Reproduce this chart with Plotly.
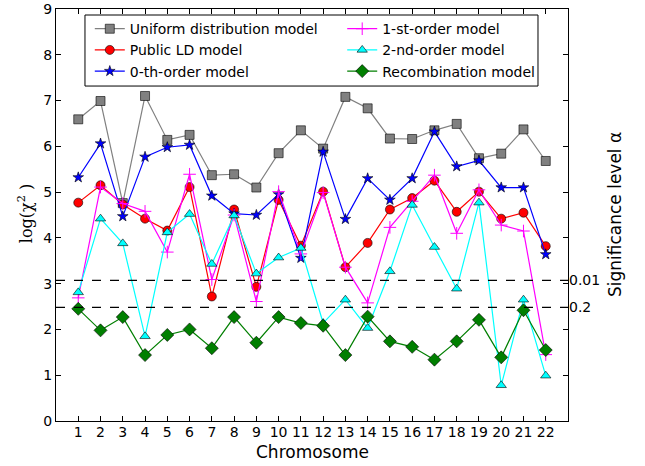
import plotly.graph_objects as go

chromosomes = list(range(1, 23))
uniform = [6.59, 6.99, 4.76, 7.10, 6.14, 6.25, 5.37, 5.39, 5.10, 5.85, 6.35,
           5.95, 7.08, 6.83, 6.17, 6.16, 6.35, 6.49, 5.74, 5.84, 6.37, 5.68]
public_ld = [4.77, 5.15, 4.73, 4.42, 4.16, 5.11, 2.72, 4.62, 2.93, 4.83, 3.83,
             5.01, 3.36, 3.89, 4.62, 4.87, 5.25, 4.57, 5.01, 4.42, 4.55, 3.82]
order0 = [5.32, 6.06, 4.47, 5.77, 5.98, 6.03, 4.92, 4.53, 4.50, 4.95, 3.56,
          5.88, 4.41, 5.30, 4.83, 5.30, 6.32, 5.56, 5.69, 5.10, 5.10, 3.64]
order1 = [2.69, 5.11, 4.75, 4.58, 3.69, 5.39, 3.09, 4.50, 2.61, 5.01, 3.65,
          4.99, 3.36, 2.58, 4.23, 4.80, 5.37, 4.10, 5.05, 4.28, 4.15, 1.45]
order2 = [2.81, 4.42, 3.88, 1.85, 4.12, 4.52, 3.43, 4.49, 3.22, 3.57, 3.78,
          2.14, 2.65, 2.03, 3.27, 4.72, 3.80, 2.89, 4.77, 0.78, 2.65, 0.99]
recomb = [2.45, 1.98, 2.27, 1.44, 1.88, 2.00, 1.59, 2.27, 1.71, 2.27, 2.14,
          2.08, 1.44, 2.28, 1.74, 1.62, 1.34, 1.74, 2.21, 1.39, 2.42, 1.55]
thresholds = [3.07, 2.48]
threshold_labels = ["0.01", "0.2"]
y_ticks = list(range(0, 10))

FONT = "DejaVu Sans"

series = [
    # name, values, color, symbol, size, legend column
    ("Uniform distribution model", uniform, "#808080", "square", 9, "legend"),
    ("Public LD model", public_ld, "#ff0000", "circle", 9, "legend"),
    ("0-th-order model", order0, "#0000ff", "star", 8, "legend"),
    ("1-st-order model", order1, "#ff00ff", "cross-thin", 9, "legend2"),
    ("2-nd-order model", order2, "#00ffff", "triangle-up", 9, "legend2"),
    ("Recombination model", recomb, "#007f00", "diamond", 10, "legend2"),
]

fig = go.Figure()
for i, (name, vals, color, symbol, size, leg) in enumerate(series):
    if symbol == "cross-thin":
        marker = dict(symbol=symbol, size=size, color=color,
                      line=dict(color=color, width=1))
    else:
        marker = dict(symbol=symbol, size=size, color=color,
                      line=dict(color="black", width=0.6))
    fig.add_trace(go.Scatter(
        x=chromosomes, y=vals, name=name, mode="lines+markers",
        line=dict(color=color, width=1.2), marker=marker,
        legend=leg, legendgroup=f"g{i}",
    ))

# invisible trace to activate the right axis
fig.add_trace(go.Scatter(x=[chromosomes[0]], y=[thresholds[0]], yaxis="y2",
                         mode="markers", marker=dict(opacity=0),
                         showlegend=False, hoverinfo="skip"))

for t in thresholds:
    fig.add_shape(type="line", xref="paper", yref="y", x0=0, x1=1, y0=t, y1=t,
                  line=dict(color="black", width=1.3, dash="dash"))

# legend frame
fig.add_shape(type="rect", xref="paper", yref="paper", x0=0.0566, x1=0.9414,
              y0=0.813, y1=0.9854, fillcolor="white", layer="above",
              line=dict(color="black", width=1))

fig.add_annotation(text="Significance level α", xref="paper", yref="paper",
                   x=1.092, y=0.5, xanchor="center", yanchor="middle",
                   textangle=-90, showarrow=False,
                   font=dict(family=FONT, size=17, color="black"))
fig.add_annotation(text="log(χ<sup>2</sup> )", xref="paper", yref="paper",
                   x=-0.0605, y=0.502, xanchor="center", yanchor="middle",
                   textangle=-90, showarrow=False,
                   font=dict(family="DejaVu Serif", size=16, color="black"))
fig.add_annotation(text="Chromosome", xref="paper", yref="paper",
                   x=0.5, y=-0.076, xanchor="center", yanchor="middle",
                   showarrow=False,
                   font=dict(family=FONT, size=17, color="black"))

leg_common = dict(orientation="v", xanchor="left", yanchor="top",
                  bgcolor="rgba(0,0,0,0)", borderwidth=0,
                  font=dict(family=FONT, size=14), tracegroupgap=0)

fig.update_layout(
    width=645, height=466,
    margin=dict(l=56, r=77, t=9, b=45),
    paper_bgcolor="white", plot_bgcolor="white",
    font=dict(family=FONT, size=14, color="black"),
    showlegend=True,
    legend=dict(x=0.066, y=0.99, **leg_common),
    legend2=dict(x=0.559, y=0.99, **leg_common),
    xaxis=dict(
        range=[0, 23], tickvals=chromosomes, ticktext=[str(c) for c in chromosomes],
        ticks="inside", ticklen=5, tickcolor="black", showline=True, linecolor="black",
        linewidth=1, mirror="ticks", showgrid=False, zeroline=False, automargin=False,
        tickfont=dict(size=14), ticklabelstandoff=-2, ticklabeloverflow="allow",
    ),
    yaxis=dict(
        range=[0, 9], tickvals=y_ticks, ticks="inside", ticklen=5, tickcolor="black",
        showline=True, linecolor="black", linewidth=1, mirror="ticks", showgrid=False,
        zeroline=False, tickfont=dict(size=14), ticklabeloverflow="allow",
        automargin=False,
    ),
    yaxis2=dict(
        range=[0, 9], overlaying="y", side="right", tickvals=thresholds,
        ticktext=threshold_labels, ticks="inside", ticklen=5, tickcolor="black",
        showgrid=False, zeroline=False, showline=False, tickfont=dict(size=14),
        ticklabeloverflow="allow", automargin=False,
    ),
)

fig.write_html("out.html", config={"displayModeBar": False},
               post_script="document.body.style.margin='0';")
